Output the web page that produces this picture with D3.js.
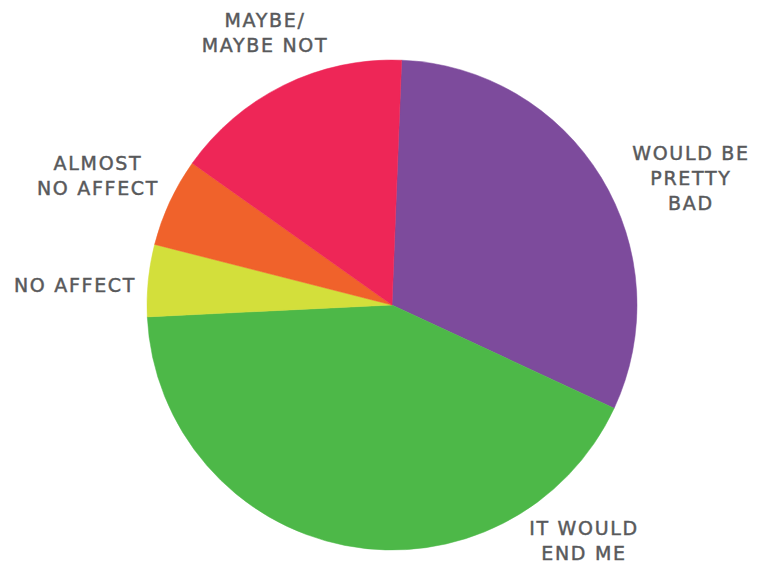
<!DOCTYPE html>
<html>
<head>
<meta charset="utf-8">
<script src="https://cdn.jsdelivr.net/npm/d3@7"></script>
<style>
  html, body { margin: 0; padding: 0; background: #fff; }
  svg { display: block; }
</style>
</head>
<body>
<svg id="chart" width="771" height="562"></svg>
<script>
// ---- data ----
const categories = ["WOULD BE PRETTY BAD", "IT WOULD END ME", "NO AFFECT", "ALMOST NO AFFECT", "MAYBE/ MAYBE NOT"];
const values = [31.3, 42.3, 4.75, 5.85, 15.8];
const labelLines = [["WOULD BE", "PRETTY", "BAD"], ["IT WOULD", "END ME"], ["NO AFFECT"], ["ALMOST", "NO AFFECT"], ["MAYBE/", "MAYBE NOT"]];
const colors = ["#7D4B9C", "#4DB848", "#D3DF3B", "#F0622B", "#EE2657"];

// ---- layout ----
const W = 771, H = 562;
const cx = 392, cy = 305, R = 245;
const startDeg = 2.26;
// label anchor points (center x, first baseline y)
const labelAnchors = [[691, 160], [584, 535], [75, 292], [98, 170], [265, 27]];
const lineH = 25.2;

const svg = d3.select("#chart");
const g = svg.append("g").attr("transform", `translate(${cx},${cy})`);

const pie = d3.pie().sort(null).value(d => d.v)
  .startAngle(startDeg * Math.PI / 180)
  .endAngle(startDeg * Math.PI / 180 + 2 * Math.PI);
const arc = d3.arc().innerRadius(0).outerRadius(R);

const data = categories.map((c, i) => ({ c, v: values[i], i }));

g.selectAll("path").data(pie(data)).join("path")
  .attr("d", arc)
  .attr("fill", d => colors[d.data.i])
  .attr("stroke", d => colors[d.data.i])
  .attr("stroke-width", 0.5);

const lbl = svg.append("g")
  .attr("font-family", "'DejaVu Sans', sans-serif")
  .attr("font-size", 19)
  .attr("fill", "#58595B")
  .attr("stroke", "#58595B")
  .attr("stroke-width", 0.45)
  .attr("text-anchor", "middle")
  .style("letter-spacing", "1.7px");

data.forEach((d, i) => {
  const [x, y] = labelAnchors[i];
  const t = lbl.append("text").attr("x", x).attr("y", y);
  labelLines[i].forEach((ln, k) => {
    t.append("tspan").attr("x", x).attr("y", y + k * lineH).text(ln);
  });
});
</script>
</body>
</html>
